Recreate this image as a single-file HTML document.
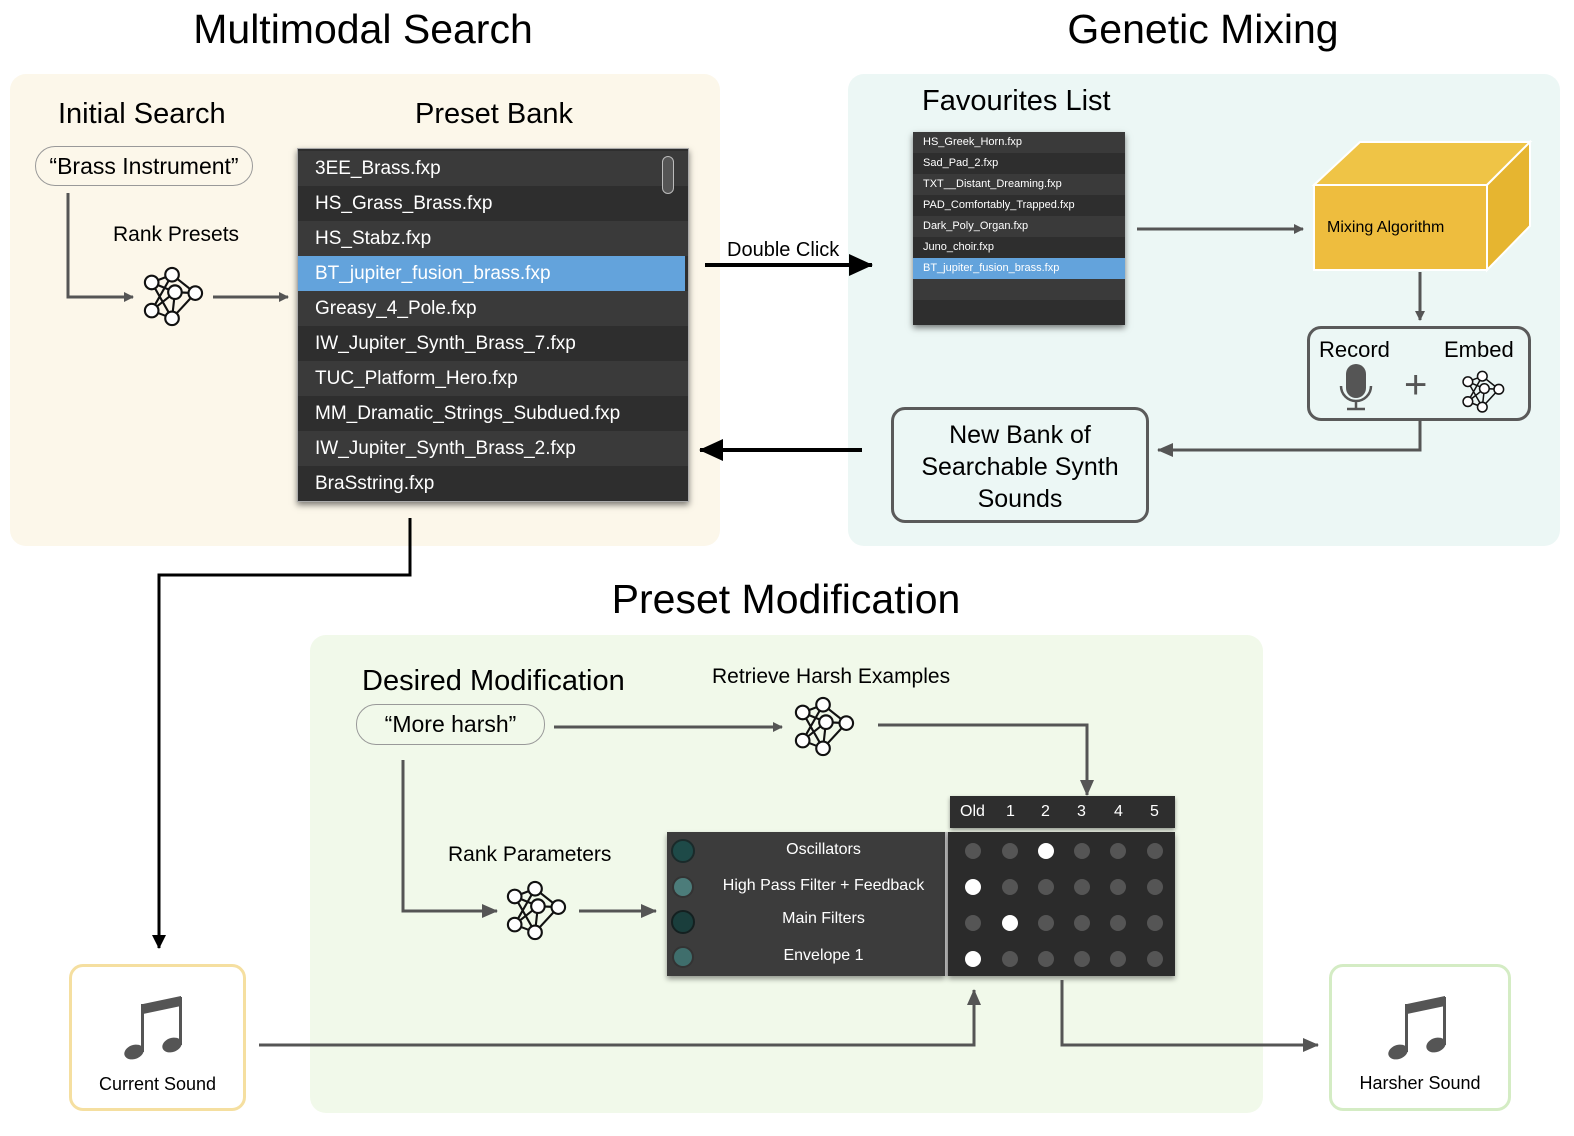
<!DOCTYPE html>
<html><head><meta charset="utf-8"><style>
body{margin:0;width:1574px;height:1136px;background:#fff;position:relative;overflow:hidden;font-family:"Liberation Sans",sans-serif;}
.a{position:absolute;}
.t{position:absolute;white-space:nowrap;color:#000;}
.row{position:absolute;left:0;width:100%;color:#fff;box-sizing:border-box;}
</style></head><body>
<div class="a" style="left:10px;top:74px;width:710px;height:472px;background:#fcf7ea;border-radius:16px"></div>
<div class="a" style="left:848px;top:74px;width:712px;height:472px;background:#ecf7f5;border-radius:16px"></div>
<div class="a" style="left:310px;top:635px;width:953px;height:478px;background:#f1f9ea;border-radius:16px"></div>

<div class="t" style="left:163px;top:6px;width:400px;text-align:center;font-size:41px">Multimodal Search</div>
<div class="t" style="left:1003px;top:6px;width:400px;text-align:center;font-size:41px">Genetic Mixing</div>
<div class="t" style="left:566px;top:576px;width:440px;text-align:center;font-size:41px">Preset Modification</div>

<div class="t" style="left:58px;top:98px;font-size:29px">Initial Search</div>
<div class="t" style="left:415px;top:98px;font-size:29px">Preset Bank</div>
<div class="t" style="left:113px;top:223px;font-size:21px">Rank Presets</div>
<div class="a" style="left:35px;top:146px;width:216px;height:38px;border:1.5px solid #999;border-radius:20px;font-size:23px;text-align:center;line-height:38px">“Brass Instrument”</div>

<div class="t" style="left:922px;top:85px;font-size:29px">Favourites List</div>
<div class="t" style="left:727px;top:239px;font-size:20px">Double Click</div>

<div class="t" style="left:362px;top:665px;font-size:29px">Desired Modification</div>
<div class="t" style="left:712px;top:665px;font-size:21px">Retrieve Harsh Examples</div>
<div class="t" style="left:448px;top:843px;font-size:21px">Rank Parameters</div>
<div class="a" style="left:356px;top:704px;width:187px;height:39px;border:1.5px solid #999;border-radius:20px;font-size:23px;text-align:center;line-height:39px">“More harsh”</div>

<div class="a" style="left:297px;top:148px;width:390px;height:352px;background:#2e2e2e;box-shadow:0 3px 6px rgba(0,0,0,.5);border:1px solid #aaa;overflow:hidden;font-size:19px">
<div class="row" style="top:2px;height:35px;background:#3a3a3a;padding:7px 17px">3EE_Brass.fxp</div>
<div class="row" style="top:37px;height:35px;background:#2e2e2e;padding:7px 17px">HS_Grass_Brass.fxp</div>
<div class="row" style="top:72px;height:35px;background:#3a3a3a;padding:7px 17px">HS_Stabz.fxp</div>
<div class="row" style="top:107px;height:35px;background:#63a3dc;padding:7px 17px;width:387px">BT_jupiter_fusion_brass.fxp</div>
<div class="row" style="top:142px;height:35px;background:#3a3a3a;padding:7px 17px">Greasy_4_Pole.fxp</div>
<div class="row" style="top:177px;height:35px;background:#2e2e2e;padding:7px 17px">IW_Jupiter_Synth_Brass_7.fxp</div>
<div class="row" style="top:212px;height:35px;background:#3a3a3a;padding:7px 17px">TUC_Platform_Hero.fxp</div>
<div class="row" style="top:247px;height:35px;background:#2e2e2e;padding:7px 17px">MM_Dramatic_Strings_Subdued.fxp</div>
<div class="row" style="top:282px;height:35px;background:#3a3a3a;padding:7px 17px">IW_Jupiter_Synth_Brass_2.fxp</div>
<div class="row" style="top:317px;height:35px;background:#2e2e2e;padding:7px 17px">BraSstring.fxp</div>
<div class="a" style="left:364px;top:7px;width:10px;height:36px;border:1.5px solid #bbb;border-radius:6px;background:#555"></div>
</div>

<div class="a" style="left:913px;top:132px;width:212px;height:193px;background:#2e2e2e;box-shadow:0 3px 6px rgba(0,0,0,.5);overflow:hidden;font-size:11px">
<div class="row" style="top:0;height:21px;background:#3a3a3a;padding:4px 10px">HS_Greek_Horn.fxp</div>
<div class="row" style="top:21px;height:21px;background:#2e2e2e;padding:4px 10px">Sad_Pad_2.fxp</div>
<div class="row" style="top:42px;height:21px;background:#3a3a3a;padding:4px 10px">TXT__Distant_Dreaming.fxp</div>
<div class="row" style="top:63px;height:21px;background:#2e2e2e;padding:4px 10px">PAD_Comfortably_Trapped.fxp</div>
<div class="row" style="top:84px;height:21px;background:#3a3a3a;padding:4px 10px">Dark_Poly_Organ.fxp</div>
<div class="row" style="top:105px;height:21px;background:#2e2e2e;padding:4px 10px">Juno_choir.fxp</div>
<div class="row" style="top:126px;height:21px;background:#63a3dc;padding:4px 10px">BT_jupiter_fusion_brass.fxp</div>
<div class="row" style="top:147px;height:21px;background:#3a3a3a"></div>
</div>

<div class="a" style="left:1307px;top:326px;width:218px;height:89px;border:3px solid #5a5a5a;border-radius:14px"></div>
<div class="t" style="left:1319px;top:337px;font-size:22px">Record</div>
<div class="t" style="left:1444px;top:337px;font-size:22px">Embed</div>
<div class="t" style="left:1404px;top:363px;font-size:40px;color:#555;line-height:44px">+</div>

<div class="a" style="left:891px;top:407px;width:252px;border:3px solid #5a5a5a;border-radius:14px;font-size:25px;text-align:center;line-height:32px;padding-top:9px;box-sizing:content-box;height:101px">New Bank of<br>Searchable Synth<br>Sounds</div>

<div class="a" style="left:950px;top:796px;width:225px;height:32px;background:#2e2e2e;box-shadow:0 2px 4px rgba(0,0,0,.4)"></div>
<div class="a" style="left:667px;top:832px;width:278px;height:144px;background:#3c3c3c;box-shadow:0 3px 5px rgba(0,0,0,.4)"></div>
<div class="a" style="left:945px;top:832px;width:3px;height:144px;background:#bbb"></div>
<div class="a" style="left:948px;top:832px;width:227px;height:144px;background:#2b2b2b;box-shadow:0 3px 5px rgba(0,0,0,.4)"></div>
<div class="t" style="left:686px;top:841px;width:275px;text-align:center;color:#fff;font-size:16px">Oscillators</div>
<div class="t" style="left:686px;top:877px;width:275px;text-align:center;color:#fff;font-size:16px">High Pass Filter + Feedback</div>
<div class="t" style="left:686px;top:910px;width:275px;text-align:center;color:#fff;font-size:16px">Main Filters</div>
<div class="t" style="left:686px;top:947px;width:275px;text-align:center;color:#fff;font-size:16px">Envelope 1</div>
<div class="t" style="left:960px;top:803px;color:#fff;font-size:16px">Old</div>
<div class="t" style="left:1006px;top:803px;color:#fff;font-size:16px">1</div>
<div class="t" style="left:1041px;top:803px;color:#fff;font-size:16px">2</div>
<div class="t" style="left:1077px;top:803px;color:#fff;font-size:16px">3</div>
<div class="t" style="left:1114px;top:803px;color:#fff;font-size:16px">4</div>
<div class="t" style="left:1150px;top:803px;color:#fff;font-size:16px">5</div>

<div class="a" style="left:69px;top:964px;width:171px;height:141px;border:3px solid #f5dfa0;border-radius:14px;background:#fff"></div>
<div class="t" style="left:69px;top:1074px;width:177px;text-align:center;font-size:18px">Current Sound</div>
<div class="a" style="left:1329px;top:964px;width:176px;height:141px;border:3px solid #d4ecc4;border-radius:14px;background:#fff"></div>
<div class="t" style="left:1329px;top:1073px;width:182px;text-align:center;font-size:18px">Harsher Sound</div>

<svg class="a" style="left:0;top:0" width="1574" height="1136">
<defs>
<symbol id="nn" viewBox="0 0 64 64"><g stroke="#111" stroke-width="2.2" fill="#fff">
<path d="M10 17L31 9M10 17L34 27M10 17L31 54M31 9L55 28M31 9L10 46M34 27L55 28M34 27L31 54M10 46L31 54M55 28L31 54M10 46L34 27" fill="none"/>
<circle cx="10" cy="17" r="7"/><circle cx="31" cy="9" r="7"/><circle cx="34" cy="27" r="7"/><circle cx="55" cy="28" r="7"/><circle cx="10" cy="46" r="7"/><circle cx="31" cy="54" r="7"/></g></symbol>
<marker id="g" markerWidth="10" markerHeight="10" refX="9" refY="5" orient="auto" markerUnits="userSpaceOnUse"><path d="M0 0L10 5L0 10z" fill="#555"/></marker>
<marker id="gs" markerWidth="16" markerHeight="14" refX="15" refY="7" orient="auto" markerUnits="userSpaceOnUse"><path d="M0 0L16 7L0 14z" fill="#555"/></marker>
<marker id="b" markerWidth="24" markerHeight="22" refX="23" refY="11" orient="auto" markerUnits="userSpaceOnUse"><path d="M0 0L24 11L0 22z" fill="#000"/></marker>
<marker id="bs" markerWidth="14" markerHeight="14" refX="13" refY="7" orient="auto" markerUnits="userSpaceOnUse"><path d="M0 0L14 7L0 14z" fill="#000"/></marker>
</defs>
<use href="#nn" x="142" y="266" width="62" height="62"/>
<use href="#nn" x="793" y="696" width="62" height="62"/>
<use href="#nn" x="505" y="880" width="62" height="62"/>
<use href="#nn" x="1461" y="370" width="44" height="44"/>
<rect x="1346" y="364" width="20" height="34" rx="10" fill="#555"/>
<path d="M1341 386a15 15 0 0 0 30 0M1356 401v8M1347 409h18" stroke="#555" stroke-width="2.5" fill="none"/>
<polygon points="1314,185 1360,142 1530,142 1487,185" fill="#efc446" stroke="#fff" stroke-width="2"/>
<polygon points="1487,185 1530,142 1530,226 1487,270" fill="#e6b530" stroke="#fff" stroke-width="2"/>
<rect x="1314" y="185" width="173" height="85" fill="#eebd3e" stroke="#fff" stroke-width="2"/>
<g stroke="#555" stroke-width="3" fill="none">
<path d="M68 193V297H133" marker-end="url(#g)"/>
<path d="M213 297H288" marker-end="url(#g)"/>
<path d="M1137 229H1303" marker-end="url(#g)"/>
<path d="M1420 272V320" marker-end="url(#g)"/>
<path d="M1420 420V450H1158" marker-end="url(#gs)"/>
<path d="M554 727H782" marker-end="url(#g)"/>
<path d="M878 725H1087V795" marker-end="url(#gs)"/>
<path d="M403 760V911H497" marker-end="url(#gs)"/>
<path d="M579 911H656" marker-end="url(#gs)"/>
<path d="M259 1045H974V990" marker-end="url(#gs)"/>
<path d="M1062 980V1045H1318" marker-end="url(#gs)"/>
</g>
<g stroke="#000" stroke-width="4" fill="none">
<path d="M705 265H872" marker-end="url(#b)"/>
<path d="M862 450H700" marker-end="url(#b)"/>
<path d="M410 518V575H159V948" stroke-width="3" marker-end="url(#bs)"/>
</g>
<circle cx="683" cy="851" r="11" fill="#1e4a48" stroke="#1a2a2a" stroke-width="2"/>
<circle cx="683" cy="887" r="10" fill="#4c7c7a" stroke="#333" stroke-width="2"/>
<circle cx="683" cy="922" r="11" fill="#1a3e3c" stroke="#142020" stroke-width="2"/>
<circle cx="683" cy="957" r="10" fill="#3f6e6c" stroke="#333" stroke-width="2"/>
<g fill="#555">
<circle cx="973" cy="851" r="8"/><circle cx="1010" cy="851" r="8"/><circle cx="1046" cy="851" r="8" fill="#fff"/><circle cx="1082" cy="851" r="8"/><circle cx="1118" cy="851" r="8"/><circle cx="1155" cy="851" r="8"/>
<circle cx="973" cy="887" r="8" fill="#fff"/><circle cx="1010" cy="887" r="8"/><circle cx="1046" cy="887" r="8"/><circle cx="1082" cy="887" r="8"/><circle cx="1118" cy="887" r="8"/><circle cx="1155" cy="887" r="8"/>
<circle cx="973" cy="923" r="8"/><circle cx="1010" cy="923" r="8" fill="#fff"/><circle cx="1046" cy="923" r="8"/><circle cx="1082" cy="923" r="8"/><circle cx="1118" cy="923" r="8"/><circle cx="1155" cy="923" r="8"/>
<circle cx="973" cy="959" r="8" fill="#fff"/><circle cx="1010" cy="959" r="8"/><circle cx="1046" cy="959" r="8"/><circle cx="1082" cy="959" r="8"/><circle cx="1118" cy="959" r="8"/><circle cx="1155" cy="959" r="8"/>
</g>
<g fill="#555">
<g>
<path d="M143 1004L181 996V1006L143 1014z"/><rect x="141" y="1004" width="3" height="48"/><rect x="179" y="997" width="3" height="48"/>
<ellipse cx="134" cy="1052" rx="10" ry="7" transform="rotate(-20 134 1052)"/><ellipse cx="172" cy="1045" rx="10" ry="7" transform="rotate(-20 172 1045)"/>
</g>
<g transform="translate(1264,0)">
<path d="M143 1004L181 996V1006L143 1014z"/><rect x="141" y="1004" width="3" height="48"/><rect x="179" y="997" width="3" height="48"/>
<ellipse cx="134" cy="1052" rx="10" ry="7" transform="rotate(-20 134 1052)"/><ellipse cx="172" cy="1045" rx="10" ry="7" transform="rotate(-20 172 1045)"/>
</g>
</g>
</svg>
<div class="t" style="left:1327px;top:219px;font-size:16px">Mixing Algorithm</div>
</body></html>
